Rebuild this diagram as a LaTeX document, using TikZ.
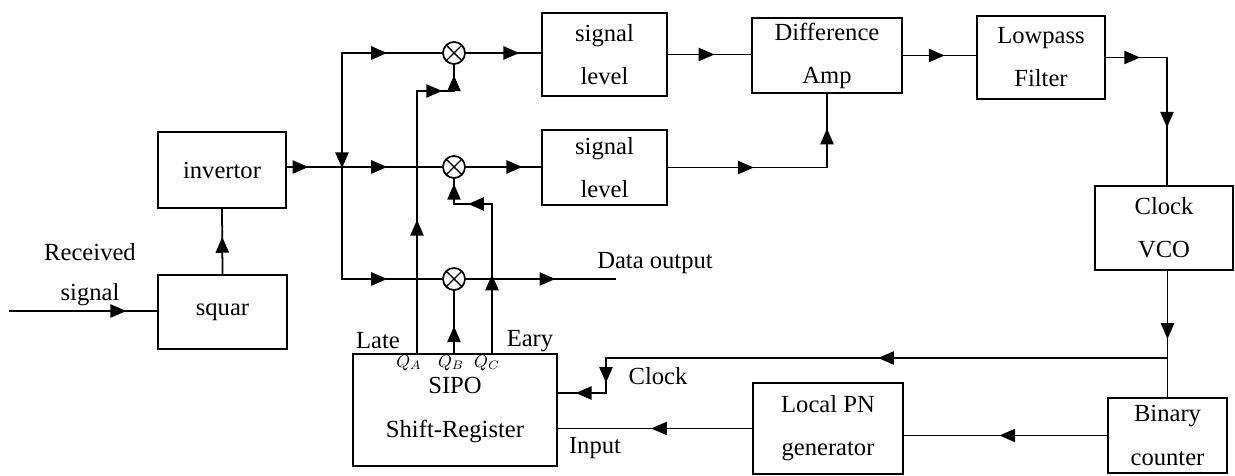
\documentclass[tikz,border=0pt]{standalone}
\usepackage{fontspec}
\setmainfont{Liberation Serif}
\usetikzlibrary{arrows.meta,decorations.markings,calc}

\begin{document}
\begin{tikzpicture}[
  x=0.2mm, y=-0.2mm, line width=1pt, line cap=rect,
  font=\fontsize{14}{24.5}\selectfont,
  blk/.style={draw, align=center, inner sep=2pt},
  mixer/.style={circle, draw, minimum size=4.4mm, inner sep=0pt,
    path picture={\draw[line width=0.8pt]
      (path picture bounding box.north west) -- (path picture bounding box.south east)
      (path picture bounding box.north east) -- (path picture bounding box.south west);}},
  marr/.style={postaction={decorate}, decoration={markings,
    mark=at position #1 with {\arrow{Triangle[length=9pt,width=7.5pt]}}}},
  lbl/.style={inner sep=1pt},
  qlbl/.style={font=\fontsize{10}{11}\selectfont, inner sep=0pt}
]
\useasboundingbox (0,0) rectangle (1235,476);

% ---- blocks
\node[blk, minimum width=25.6mm, minimum height=15.2mm] (inv) at (222,170) {invertor};
\node[blk, minimum width=25.8mm, minimum height=14.8mm] (sq) at (222.5,312) {squar};
\node[blk, minimum width=25mm, minimum height=16.6mm] (sl1) at (604.5,54.5) {signal\\level};
\node[blk, minimum width=25mm, minimum height=15mm] (sl2) at (604.5,167.5) {signal\\level};
\node[blk, minimum width=30mm, minimum height=15mm] (diff) at (827,55.5) {Difference\\Amp};
\node[blk, minimum width=25.6mm, minimum height=16.6mm] (lp) at (1041,57.5) {Lowpass\\Filter};
\node[blk, minimum width=27.6mm, minimum height=16.8mm] (vco) at (1164,228) {Clock\\VCO};
\node[blk, minimum width=23.8mm, minimum height=15mm] (bin) at (1167.5,435.5) {Binary\\counter};
\node[blk, minimum width=30mm, minimum height=18.2mm] (pn) at (828,428.5) {Local PN\\generator};
\node[blk, minimum width=40.8mm, minimum height=22.4mm] (sipo) at (455,410) {SIPO\\Shift-Register};

% ---- mixers
\node[mixer] (mx1) at (454,53) {};
\node[mixer] (mx2) at (454,167) {};
\node[mixer] (mx3) at (454,279) {};

% ---- labels
\node[lbl] (rcv) at (90,252) {Received};
\node[lbl] (rsig) at (90,295) {signal};
\node[lbl] (late) at (378,341) {Late};
\node[lbl] (eary) at (530,341) {Eary};
\node[lbl] (dlbl) at (655,263) {Data output};
\node[lbl] (clbl) at (658,376) {Clock};
\node[lbl] (ilbl) at (595,448) {Input};
\node[qlbl] (qal) at (409,363) {$Q_A$};
\node[qlbl] (qbl) at (451,363) {$Q_B$};
\node[qlbl] (qcl) at (487,363) {$Q_C$};

% ---- helper points
\coordinate (rx) at (10,311);
\coordinate (jn) at (342,167);
\coordinate (jt) at (342,53);
\coordinate (jb) at (342,279);
\coordinate (dout) at (615,279);
\coordinate (l1) at (1167,57.5);
\coordinate (ck0) at (1167,358);
\coordinate (ck1) at (606,358);
\coordinate (ck2) at (606,393);
\coordinate (qa) at (417,354);
\coordinate (qa1) at (417,91);
\coordinate (qa2) at (454,91);
\coordinate (qb) at (454,354);
\coordinate (qc) at (492,354);
\coordinate (qc1) at (492,204);
\coordinate (qc2) at (454,204);

% ---- front end
\draw[marr=.79] (rx) -- (sq.west |- rx);
\draw[marr=.57] (sq.north) -- (inv.south);
\draw[marr=.39] (inv.east |- jn) -- (jn);
\draw[marr=.51] (jt) -- (jb);
\draw[marr=.45] (jt) -- (mx1.west);
\draw[marr=.45] (jn) -- (mx2.west);
\draw[marr=.45] (jb) -- (mx3.west);

% ---- mixer outputs
\draw[marr=.71] (mx1.east) -- (sl1.west |- mx1.east);
\draw[marr=.75] (mx2.east) -- (sl2.west |- mx2.east);
\draw[marr=.6] (mx3.east) -- (dout);

% ---- loop
\draw[marr=.56] (sl1.east) -- (diff.west |- sl1.east);
\draw[marr=.54] (sl2.east) -- (diff.south |- sl2.east);
\draw[marr=.53] (diff.south |- sl2.east) -- (diff.south);
\draw[marr=.57] (diff.east) -- (lp.west |- diff.east);
\draw[marr=.56] (lp.east) -- (l1);
\draw[marr=.55] (l1) -- (l1 |- vco.north);
\draw[marr=.54] (bin.north |- vco.south) -- (bin.north);
\draw[marr=.515] (ck0) -- (ck1);
\draw[marr=.71] (ck1) -- (ck2);
\draw[marr=.63] (ck2) -- (sipo.east |- ck2);
\draw[marr=.53] (bin.west) -- (pn.east |- bin.west);
\draw[marr=.52] (pn.west) -- (sipo.east |- pn.west);

% ---- register taps
\draw[marr=.51] (qa) -- (qa1);
\draw[marr=.68] (qa1) -- (qa2);
\draw[marr=.6] (qa2) -- (mx1.south);
\draw[marr=.44] (qb) -- (mx3.south);
\draw[marr=.53] (qc) -- (qc1);
\draw[marr=.63] (qc1) -- (qc2);
\draw[marr=.8] (qc2) -- (mx2.south);
\end{tikzpicture}
\end{document}
